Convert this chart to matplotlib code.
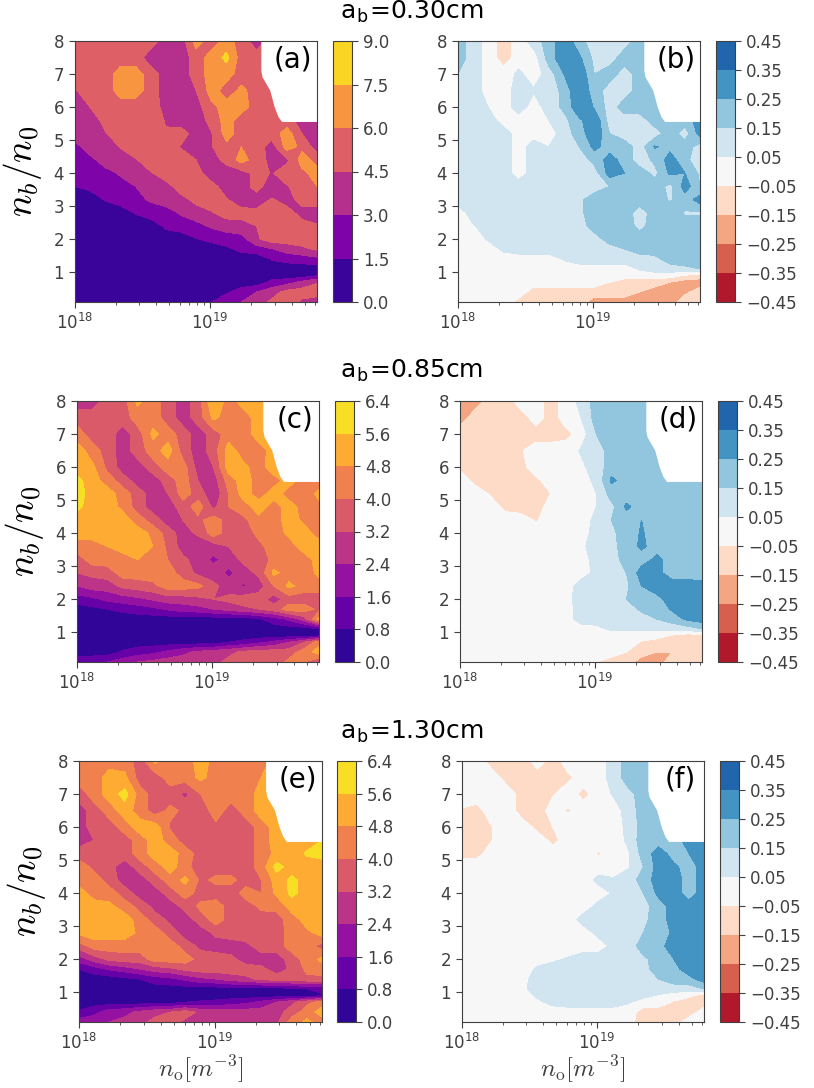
import numpy as np
import matplotlib
matplotlib.use("Agg")
import matplotlib.pyplot as plt

W, H = 814, 1088

# density axis and ratio axis of the scan
n0 = [1.00e18, 1.29e18, 1.67e18, 2.17e18, 2.80e18, 3.63e18, 4.69e18, 6.07e18, 7.86e18,
      1.02e19, 1.32e19, 1.70e19, 2.20e19, 2.85e19, 3.69e19, 4.77e19, 6.17e19]
ratio = [8, 7.5, 7, 6.5, 6, 5.6, 5.2, 4.8, 4.4, 4, 3.6, 3.2, 2.8, 2.4, 2, 1.7, 1.4, 1.1, 0.9, 0.7, 0.4, 0.1]

# outline of the region without data
blank_x = [2.39e19, 2.39e19, 2.44e19, 2.78e19, 3.0e19, 3.2e19, 3.4e19, 6.17e19, 6.17e19]
blank_y = [8, 7.1, 6.9, 6.5, 6.0, 5.7, 5.55, 5.55, 8]

a_vals = [
    [5.2,5.2,5.2,5.2,5.2,5.2,3.7,3.7,6.7,5.2,6.7,5.2,3.7,5.2,5.2,5.2,5.2],
    [5.2,5.2,5.2,5.2,5.2,3.7,3.7,3.7,5.2,6.7,7.9,5.2,5.2,5.2,5.2,5.2,5.2],
    [5.2,5.2,5.2,6.7,6.7,5.2,3.7,3.7,5.2,6.7,6.7,5.2,5.2,5.2,5.2,5.2,5.2],
    [4.4,5.2,5.2,6.7,6.7,5.2,3.7,3.7,4.5,6.7,5.2,6.4,5.2,5.2,5.2,5.2,5.2],
    [3.7,4.5,5.2,5.2,5.2,5.2,4.0,3.7,3.9,5.6,6.7,6.7,5.2,5.2,5.2,5.2,5.2],
    [3.7,3.7,5.0,5.2,5.2,5.2,4.4,3.7,3.7,5.0,6.7,5.2,5.2,5.9,5.2,3.7,4.5],
    [3.7,3.7,4.4,5.2,5.2,5.2,4.6,5.2,3.7,4.4,6.7,5.2,5.4,5.2,6.7,4.5,3.7],
    [2.6,3.7,3.7,4.6,5.2,5.2,5.2,4.4,3.7,4.4,5.6,6.0,5.2,3.8,6.7,5.6,3.7],
    [2.2,2.6,3.7,3.7,4.4,5.2,5.2,5.2,4.5,3.9,5.0,6.6,5.2,4.0,4.2,6.7,5.4],
    [2.2,2.2,2.5,3.2,3.7,4.4,5.2,5.2,5.0,3.7,3.7,3.9,5.0,4.4,5.2,5.6,6.7],
    [1.5,1.9,2.2,2.4,3.0,3.7,4.0,5.2,5.2,5.0,3.7,3.9,5.0,3.7,4.4,5.2,6.0],
    [0.7,0.7,1.6,2.2,2.6,3.2,3.7,4.0,5.0,5.2,4.6,3.7,3.9,4.6,4.0,5.0,5.2],
    [0.7,0.7,0.7,0.7,1.6,2.2,2.4,3.2,3.7,4.4,5.2,5.0,4.8,5.2,5.0,4.0,3.9],
    [0.7,0.7,0.7,0.7,0.7,0.7,1.8,2.2,2.6,3.2,3.7,4.0,4.5,5.2,5.2,5.0,4.6],
    [0.7,0.7,0.7,0.7,0.7,0.7,0.7,0.7,1.4,1.9,2.2,2.4,4.3,5.2,5.2,5.2,5.2],
    [0.7,0.7,0.7,0.7,0.7,0.7,0.7,0.7,0.7,0.7,1.2,1.9,2.2,2.9,3.7,4.2,4.7],
    [0.7,0.7,0.7,0.7,0.7,0.7,0.7,0.7,0.7,0.7,0.7,0.7,0.7,1.6,2.0,2.2,2.6],
    [0.7,0.7,0.7,0.7,0.7,0.7,0.7,0.7,0.7,0.7,0.7,0.7,0.7,0.7,0.7,0.7,0.7],
    [0.7,0.7,0.7,0.7,0.7,0.7,0.7,0.7,0.7,0.7,0.7,0.7,0.7,0.7,0.7,0.7,1.4],
    [0.7,0.7,0.7,0.7,0.7,0.7,0.7,0.7,0.7,0.7,0.7,0.7,0.7,1.9,2.4,3.4,4.4],
    [0.7,0.7,0.7,0.7,0.7,0.7,0.7,0.7,0.7,0.7,1.3,2.2,3.0,3.9,5.0,5.2,5.2],
    [0.7,0.7,0.7,0.7,0.7,0.7,0.7,0.7,0.7,1.5,2.3,3.0,3.8,4.8,5.2,4.2,3.7],
]

b_vals = [
    [.2,.1,0,-.1,0,.1,.2,.33,.18,.1,.1,.1,.2,.1,.1,.1,.1],
    [.2,.1,0,-.1,0,0,.2,.33,.27,.12,.1,.2,.2,.1,.1,.1,.1],
    [.15,.1,0,0,.07,0,.1,.25,.33,.15,.2,.1,.2,.2,.1,.1,.1],
    [.1,.1,0,0,.1,.06,.06,.2,.33,.2,.1,.1,.2,.2,.1,.1,.1],
    [.1,.1,.05,0,.1,0,.1,.17,.33,.24,.1,.2,.2,.2,.1,.1,.1],
    [.1,.1,.1,0,0,0,.05,.12,.23,.33,.1,.1,.1,.2,.15,.2,.3],
    [.1,.1,.1,.1,0,0,0,.1,.2,.33,.15,.1,.1,.1,.2,.1,.3],
    [.1,.1,.1,.1,0,.1,.05,.1,.15,.28,.2,.2,.1,.26,.22,.2,.1],
    [.1,.1,.1,.1,0,.1,.1,.1,.1,.18,.3,.2,.1,.17,.3,.17,.1],
    [.1,.1,.1,.1,0,.1,.1,.1,.1,.1,.3,.25,.2,.12,.27,.25,.13],
    [.1,.1,.1,.1,.1,.1,.1,.1,.13,.1,.15,.2,.2,.2,.12,.3,.15],
    [.1,.1,.1,.1,.1,.1,.1,.1,.13,.2,.2,.2,.2,.2,.14,.2,.3],
    [0,.1,.1,.1,.1,.1,.1,.1,.13,.2,.2,.2,.1,.2,.2,.14,.14],
    [0,.04,.1,.1,.1,.1,.1,.1,.1,.2,.2,.2,.12,.2,.2,.2,.2],
    [0,0,.06,.1,.1,.1,.1,.1,.1,.1,.2,.2,.2,.2,.2,.2,.2],
    [0,0,0,.07,.1,.1,.1,.1,.1,.1,.1,.15,.2,.2,.2,.2,.2],
    [0,0,0,0,0,0,0,.06,.1,.1,.1,.1,.1,.12,.2,.22,.2],
    [0,0,0,0,0,0,0,0,0,0,0,0,.06,.1,.1,.12,.15],
    [0,0,0,0,0,0,0,0,0,0,0,0,0,0,0,-.06,-.1],
    [0,0,0,0,0,0,0,0,0,0,-.05,-.1,-.1,-.1,-.15,-.2,-.2],
    [0,0,0,0,0,-.1,-.1,-.1,-.1,-.1,-.1,-.1,-.15,-.2,-.2,-.17,-.1],
    [0,0,0,0,-.08,-.1,-.1,-.1,-.1,-.2,-.2,-.2,-.2,-.2,-.2,-.1,-.1],
]

c_vals = [
    [2.8,2.8,3.6,3.6,5.0,4.4,3.6,2.8,3.6,5.6,4.4,5.2,5.2,5.2,5.2,5.2,5.2],
    [3.6,3.6,3.6,3.6,4.4,4.4,3.6,2.8,3.6,5.0,4.4,4.4,5.2,5.2,5.2,5.2,5.2],
    [4.4,3.6,3.6,2.8,3.6,5.0,4.4,3.6,2.8,3.6,4.4,4.4,5.2,5.2,5.2,5.2,5.2],
    [5.2,4.4,3.6,2.8,3.6,4.4,5.2,3.6,2.8,3.6,5.2,4.4,4.4,5.2,5.2,5.2,5.2],
    [5.2,5.0,3.8,2.8,2.8,3.6,4.4,4.4,2.8,3.2,5.2,5.0,4.4,5.4,5.2,5.2,5.2],
    [5.8,5.2,4.4,3.6,2.8,2.8,3.6,4.4,3.2,2.8,4.4,5.2,4.4,4.4,5.2,4.4,4.4],
    [6.0,5.2,5.2,4.4,3.6,2.8,3.2,4.4,3.6,2.6,4.0,5.2,4.4,5.2,4.4,4.4,5.0],
    [5.8,5.2,5.2,4.6,3.6,2.8,2.8,3.6,4.4,3.0,4.0,4.4,5.2,4.4,5.2,4.4,4.6],
    [5.2,5.2,5.2,5.2,4.4,3.6,2.8,3.2,3.8,4.4,3.6,3.8,4.6,4.4,5.2,4.6,4.4],
    [5.2,5.2,5.2,5.2,5.2,4.6,3.6,2.8,3.4,4.4,3.6,3.6,4.2,4.4,5.0,5.2,4.4],
    [4.4,4.4,4.8,5.2,5.2,4.8,3.8,2.8,2.4,2.8,3.2,3.6,3.8,4.4,4.4,5.2,5.2],
    [3.6,4.4,4.4,4.4,4.8,4.4,4.0,3.4,2.8,2.2,2.8,3.4,3.6,4.2,4.4,4.4,5.2],
    [3.2,3.4,3.6,4.4,4.4,4.4,4.4,3.6,3.0,2.8,2.2,2.8,3.4,5.0,4.4,4.4,5.0],
    [2.4,2.8,2.8,3.4,3.6,3.8,4.4,4.4,4.2,3.4,2.8,2.3,2.8,4.0,5.0,4.4,4.4],
    [1.2,1.4,1.8,2.0,2.2,2.5,2.8,2.8,3.0,3.2,3.4,3.6,3.6,2.8,3.6,3.6,3.6],
    [.4,.6,.8,1.0,1.2,1.4,1.7,2.0,2.1,2.4,2.7,3.0,3.2,3.6,4.4,4.4,3.8],
    [.4,.4,.4,.4,.4,.4,.4,.4,.4,.4,.4,.4,.7,1.2,1.8,2.8,5.0],
    [.4,.4,.4,.4,.4,.4,.4,.4,.4,.4,.4,.4,.4,.4,.4,.4,.7],
    [.4,.4,.4,.4,.4,.4,.4,.4,.4,.4,.4,.4,.4,.4,.4,.4,.6],
    [.4,.4,.4,.4,.4,.4,.4,.4,.4,.4,.8,1.0,1.4,1.8,2.4,3.2,4.5],
    [.4,.4,.4,.9,1.2,1.4,1.8,2.2,2.6,2.8,3.0,3.4,3.6,3.6,3.6,4.4,5.2],
    [1.2,1.4,1.6,2.0,2.4,2.6,2.8,2.8,2.8,3.0,3.4,3.6,3.6,3.6,4.2,4.0,3.2],
]

d_vals = [
    [-.2,-.2,-.1,-.1,0,0,-.1,0,.08,.2,.2,.2,.2,.2,.2,.2,.2],
    [-.2,-.1,-.1,-.1,-.1,0,-.1,0,.05,.2,.2,.2,.2,.2,.2,.2,.2],
    [-.1,-.1,-.1,-.1,-.1,-.1,-.1,-.08,0,.15,.2,.2,.25,.2,.2,.2,.2],
    [-.1,-.1,-.1,-.1,-.06,0,0,0,.06,.1,.2,.2,.2,.2,.2,.2,.2],
    [-.07,-.1,-.1,-.1,-.08,0,0,0,.03,.1,.2,.2,.2,.2,.2,.2,.2],
    [0,-.08,-.1,-.1,-.1,-.07,0,0,0,.08,.27,.2,.2,.2,.2,.2,.2],
    [0,0,-.06,-.1,-.1,-.09,-.05,0,0,.05,.2,.2,.2,.2,.2,.2,.2],
    [0,0,0,-.08,-.1,-.1,0,0,0,.05,.12,.27,.2,.2,.2,.2,.2],
    [0,0,0,0,0,-.06,0,0,0,.08,.15,.2,.25,.2,.2,.2,.2],
    [0,0,0,0,0,0,0,0,0,.1,.13,.2,.26,.2,.2,.2,.2],
    [0,0,0,0,0,0,0,0,.03,.1,.12,.2,.27,.2,.2,.2,.2],
    [0,0,0,0,0,0,0,0,0,.1,.1,.2,.2,.28,.2,.2,.2],
    [0,0,0,0,0,0,0,0,0,.08,.1,.15,.3,.28,.2,.2,.2],
    [0,0,0,0,0,0,0,0,.1,.1,.1,.13,.25,.3,.3,.3,.28],
    [0,0,0,0,0,0,0,.02,.1,.1,.1,.15,.2,.22,.3,.3,.3],
    [0,0,0,0,0,0,0,0,.1,.1,.1,.1,.17,.2,.26,.3,.3],
    [0,0,0,0,0,0,0,0,.1,.1,.1,.1,.1,.15,.2,.27,.3],
    [0,0,0,0,0,0,0,0,0,.02,.07,.07,.07,.07,.08,.1,.15],
    [0,0,0,0,0,0,0,0,0,0,0,0,0,0,-.06,-.1,-.1],
    [0,0,0,0,0,0,0,0,0,0,0,0,-.06,-.1,-.1,-.1,-.1],
    [0,0,0,0,0,0,0,0,0,0,0,-.05,-.1,-.15,-.15,-.1,-.06],
    [0,0,0,0,0,0,0,0,0,-.05,-.1,-.1,-.2,-.2,-.1,-.1,-.1],
]

e_vals = [
    [4.8,4.4,4.4,4.4,3.6,5.0,4.2,4.4,5.2,4.4,4.4,4.4,4.4,5.2,5.2,5.2,5.2],
    [4.4,4.4,5.2,5.0,3.6,3.6,4.4,4.4,5.0,4.4,4.4,4.4,4.8,5.2,5.2,5.2,5.2],
    [3.6,4.4,5.2,5.9,4.4,3.6,3.6,3.0,4.0,4.4,4.4,4.4,5.2,5.2,5.2,5.2,5.2],
    [2.8,3.6,4.4,5.2,4.4,3.6,4.2,3.8,3.6,4.4,3.6,4.4,5.2,5.2,5.2,5.2,5.2],
    [2.8,3.6,3.6,4.4,5.2,5.2,3.9,3.6,3.6,3.8,3.6,3.6,4.4,5.2,5.2,5.2,5.2],
    [2.8,3.2,3.6,3.6,4.4,5.2,4.4,3.6,3.6,3.6,3.6,3.6,4.4,5.2,5.2,5.2,5.6],
    [3.6,3.6,3.6,3.6,4.4,5.2,5.2,4.4,3.6,3.6,3.6,3.6,4.4,5.0,5.2,5.7,5.9],
    [4.4,3.8,3.4,2.8,3.6,4.4,5.2,4.2,3.6,3.6,3.6,3.6,4.4,5.9,5.2,5.2,5.2],
    [4.4,4.4,3.6,2.8,2.8,3.6,4.4,5.0,3.8,4.2,4.2,3.6,4.0,5.2,5.8,5.2,5.2],
    [5.2,4.4,4.4,3.6,2.8,2.8,3.6,4.4,3.6,3.6,3.6,4.4,4.0,5.0,5.8,5.2,5.2],
    [5.2,5.2,5.0,4.4,3.7,2.9,2.8,3.5,4.2,4.4,3.6,3.6,4.2,4.2,5.2,5.2,5.2],
    [5.2,5.2,5.2,5.2,4.4,3.6,3.0,2.8,3.6,4.4,3.6,3.6,3.6,3.7,4.4,5.2,5.2],
    [5.0,5.2,5.2,5.2,4.6,4.4,3.6,2.8,2.8,3.4,3.6,3.6,3.6,3.6,4.4,4.6,5.2],
    [3.6,4.4,4.4,4.4,4.4,4.4,4.4,3.6,3.0,2.8,2.8,3.0,3.6,3.6,4.4,4.4,3.6],
    [2.0,2.8,3.4,3.6,3.6,4.4,4.4,4.4,3.6,3.6,3.4,2.8,2.8,2.8,3.6,4.4,5.0],
    [.8,1.2,1.7,2.0,2.4,2.8,3.0,3.4,3.6,3.6,3.6,3.6,3.4,2.8,3.4,4.2,4.4],
    [.4,.4,.4,.6,.8,1.2,1.4,1.8,2.2,2.4,2.8,3.0,3.4,3.6,3.6,3.8,3.8],
    [.4,.4,.4,.4,.4,.4,.4,.4,.4,.4,.4,.4,.4,.4,.6,.8,1.0],
    [.4,.4,.4,.4,.4,.4,.4,.4,.4,.4,.4,.4,.4,.4,.4,.4,.7],
    [.4,.4,.4,.4,.4,.4,.4,.8,.9,1.0,1.2,1.4,1.8,2.4,3.0,3.8,4.4],
    [.9,1.4,2.0,2.2,2.6,3.0,3.2,3.6,3.0,2.8,2.8,2.8,2.8,2.9,3.6,4.4,5.2],
    [2.0,2.0,2.4,2.6,3.0,3.4,3.6,3.0,2.8,2.8,2.8,2.8,2.8,3.0,4.4,5.0,4.4],
]

f_vals = [
    [0,0,-.1,-.1,-.1,0,-.1,0,0,0,.1,.2,.2,.2,.2,.2,.2],
    [0,0,0,-.1,-.1,-.1,-.05,-.07,0,0,.1,.2,.2,.2,.2,.2,.2],
    [0,0,0,0,-.1,-.1,-.06,0,-.08,0,.06,.12,.2,.2,.2,.2,.2],
    [-.06,-.08,0,0,-.1,-.1,0,-.06,0,0,0,.1,.2,.2,.2,.2,.2],
    [-.1,-.1,-.05,0,0,-.08,-.05,0,-.05,0,0,.08,.2,.2,.2,.2,.2],
    [-.1,-.1,-.05,0,0,0,-.08,0,0,0,0,.07,.22,.2,.2,.3,.3],
    [-.08,-.08,0,0,0,0,0,0,0,-.06,0,.04,.2,.3,.2,.25,.3],
    [0,0,0,0,0,0,0,0,0,0,0,.04,.15,.3,.27,.2,.3],
    [0,0,0,0,0,0,0,0,0,.08,.06,.1,.2,.3,.3,.2,.3],
    [0,0,0,0,0,0,0,0,0,0,.06,.1,.15,.28,.3,.2,.3],
    [0,0,0,0,0,0,0,0,0,.08,.1,.1,.12,.2,.3,.3,.27],
    [0,0,0,0,0,0,0,0,.09,.1,.1,.1,.13,.2,.3,.3,.3],
    [0,0,0,0,0,0,0,0,0,.08,.1,.1,.15,.2,.27,.3,.3],
    [0,0,0,0,0,0,0,0,0,0,.08,.1,.2,.22,.3,.3,.3],
    [0,0,0,0,0,0,.03,.06,.1,.1,.1,.1,.13,.2,.25,.3,.3],
    [0,0,0,0,0,.07,.1,.1,.1,.1,.1,.1,.12,.2,.22,.3,.3],
    [0,0,0,0,.02,.1,.1,.1,.1,.1,.1,.1,.1,.15,.2,.22,.3],
    [0,0,0,0,.03,.1,.1,.1,.1,.1,.1,.1,.1,.1,.1,.1,.15],
    [0,0,0,0,0,.07,.1,.1,.1,.1,.1,.1,.08,.04,0,-.03,-.1],
    [0,0,0,0,0,.03,.08,.1,.1,.1,.1,.06,0,0,-.06,-.1,-.1],
    [0,0,0,0,0,0,0,0,0,0,0,0,-.1,-.1,-.15,-.1,0],
    [0,0,0,0,0,0,0,0,0,0,0,-.02,-.1,-.1,-.1,0,0],
]

levels_a = [0, 1.5, 3, 4.5, 6, 7.5, 9]
levels_ce = [0, 0.8, 1.6, 2.4, 3.2, 4.0, 4.8, 5.6, 6.4]
levels_div = [-.45, -.35, -.25, -.15, -.05, .05, .15, .25, .35, .45]
labels_a = ["0.0", "1.5", "3.0", "4.5", "6.0", "7.5", "9.0"]
labels_ce = ["0.0", "0.8", "1.6", "2.4", "3.2", "4.0", "4.8", "5.6", "6.4"]
labels_div = ["\u22120.45", "\u22120.35", "\u22120.25", "\u22120.15", "\u22120.05", "0.05", "0.15", "0.25", "0.35", "0.45"]
div_colors = ["#b2182b", "#d6604d", "#f4a582", "#fddbc7", "#f7f7f7", "#d1e5f0", "#92c5de", "#4393c3", "#2166ac"]

titles = ["a$_\\mathregular{b}$=0.30cm", "a$_\\mathregular{b}$=0.85cm", "a$_\\mathregular{b}$=1.30cm"]
title_y = [12, 371, 732]

# name, values, levels, labels, axes box in pixels (left, right, top, bottom), colourbar left edge
panels = [
    ("(a)", a_vals, levels_a, labels_a, (75, 317, 41, 302), 333),
    ("(b)", b_vals, levels_div, labels_div, (458, 700, 41, 302), 716),
    ("(c)", c_vals, levels_ce, labels_ce, (77, 319, 401, 662), 335),
    ("(d)", d_vals, levels_div, labels_div, (460, 702, 401, 662), 718),
    ("(e)", e_vals, levels_ce, labels_ce, (79, 322, 761, 1022), 337),
    ("(f)", f_vals, levels_div, labels_div, (462, 704, 761, 1022), 720),
]

plt.rcParams["mathtext.fontset"] = "cm"
grey = "#404040"


def box(fig, left, right, top, bottom):
    return fig.add_axes([left / W, 1 - bottom / H, (right - left) / W, (bottom - top) / H])


fig = plt.figure(figsize=(W / 100, H / 100), dpi=100)

for i, (name, vals, levels, labels, px, cb_left) in enumerate(panels):
    ax = box(fig, *px)
    z = np.array(vals, dtype=float)[::-1]
    if i % 2 == 0:
        cs = ax.contourf(n0, ratio[::-1], z, levels=levels, cmap="plasma", zorder=1)
    else:
        cs = ax.contourf(n0, ratio[::-1], z, levels=levels, colors=div_colors, zorder=1)
    ax.fill(blank_x, blank_y, color="white", lw=0, zorder=2)
    ax.set_xscale("log")
    ax.set_xlim(1e18, 6.17e19)
    ax.set_ylim(0.1, 8)
    ax.set_yticks(range(1, 9))
    ax.tick_params(axis="both", which="major", labelsize=12, colors=grey, length=4, pad=4)
    ax.tick_params(axis="x", which="minor", colors=grey, length=2.5)
    for s in ax.spines.values():
        s.set_color(grey)
    ax.text(0.90, 0.93, name, transform=ax.transAxes, ha="center", va="center", fontsize=20, color="black", zorder=5)
    if i % 2 == 0:
        ax.set_ylabel(r"$n_b/n_0$", fontsize=27, labelpad=7, color="black")
    if i >= 4:
        ax.set_xlabel(r"$n_\mathrm{o}[m^{-3}]$", fontsize=18, labelpad=0, color=grey)

    cax = box(fig, cb_left, cb_left + 19, px[2], px[3])
    cb = fig.colorbar(cs, cax=cax, ticks=levels)
    cb.ax.set_yticklabels(labels)
    cb.ax.tick_params(labelsize=12, colors=grey, length=4, pad=4)
    cb.outline.set_edgecolor(grey)

for t, y in zip(titles, title_y):
    fig.text(412 / W, 1 - y / H, t, ha="center", va="center", fontsize=18, color="black")

fig.savefig("out.png", dpi=100)
